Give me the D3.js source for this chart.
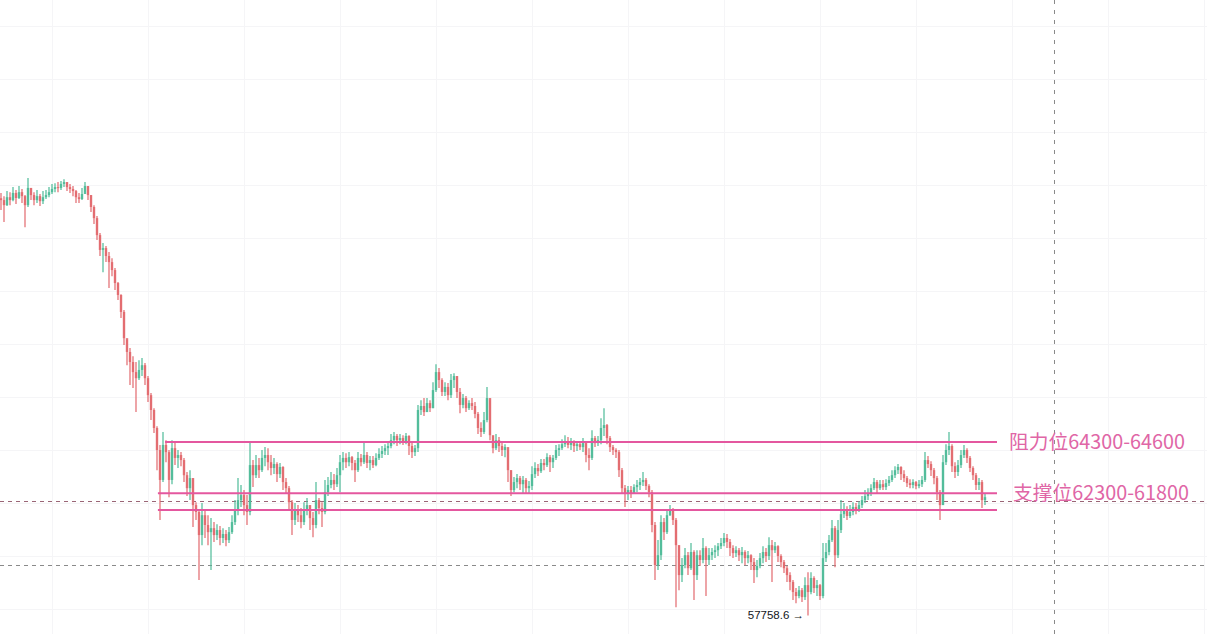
<!DOCTYPE html>
<html><head><meta charset="utf-8">
<script src="https://cdn.jsdelivr.net/npm/d3@7"></script>
<style>html,body{margin:0;padding:0;background:#fff;overflow:hidden}</style>
</head><body>
<svg id="c" width="1207" height="634"></svg>
<script>
// ---- data (BTC-style price candles, open = previous close) ----
const firstOpen = 73500;
const closes = [73430,73240,73540,73430,73700,73510,73730,73580,73240,73890,
73620,73430,73580,73390,73540,73620,73730,73850,73920,73890,
74040,74110,73920,73850,73770,73540,73470,73660,73960,73620,
73170,72750,72110,71550,71620,71320,71090,70790,70300,69850,
69210,68220,67700,67320,66940,66710,67020,67200,66710,66070,
65510,64830,64000,62870,64190,63920,62870,64070,63700,63810,
63620,63050,62560,62940,61920,61660,60790,61540,61170,60900,
61050,60790,60980,60680,60830,60600,60900,61280,61730,62110,
62300,61920,61660,63430,63050,63430,63240,63700,63810,63540,
63320,63470,63090,63360,62790,62560,62030,61360,61730,61540,
61280,61730,61920,61430,61170,62110,61810,61660,62410,62680,
62870,62710,63050,63540,63700,63540,63730,63510,63240,63700,
63540,63810,63510,63620,63430,63700,63850,63960,64070,64150,
64370,64530,64370,64450,64340,64530,64150,63920,64070,65510,
65660,65430,65770,65580,66260,66940,66640,66190,66380,66070,
66640,66790,66190,65700,65960,65580,65770,65660,65360,64830,
64680,65130,65960,64560,64070,64370,64150,64000,64110,63240,
62490,62790,62940,62710,62870,62560,62640,63090,63320,63200,
63510,63430,63730,63540,63700,64000,64070,64220,64340,64190,
64300,64150,64220,64110,64260,63810,63700,64450,64260,64370,
64830,64940,64450,64110,64000,63920,63240,62560,62340,62490,
62370,62600,62680,62790,62870,62640,62410,61170,59660,60030,
61280,60900,61540,61730,61360,60410,59280,59660,60030,59540,
60150,59280,60030,59850,60300,59850,60030,60150,60220,60370,
60490,60680,60530,60300,60110,60220,60030,60150,59920,60030,
59770,59470,59620,59920,60150,60000,60410,60220,60370,60000,
59770,59540,59280,59020,58640,58490,58710,58450,58900,58640,
59170,58790,58900,58490,59920,60150,60600,61050,60030,60980,
61580,61730,61510,61660,61850,61730,61920,62110,62260,62340,
62560,62790,62560,62710,62600,62750,62870,63050,63240,63360,
63090,62940,62750,62680,62790,62640,62710,62870,63620,63470,
63240,62940,62410,61920,63540,64000,64150,63390,63170,63430,
63810,64000,63700,63320,63050,62680,62790,62110,62220];
const highs = [73700,73580,73770,73730,73920,73810,73960,73850,73620,74260,
73890,73730,73810,73660,73770,73810,73920,74040,74070,74110,
74150,74220,74110,74040,73960,73810,73700,73890,74110,73960,
73620,73240,72830,72190,71810,71700,71470,71240,70870,70340,
69880,69280,68150,67850,67540,67320,67390,67470,67280,66790,
66150,65580,64900,64190,64680,64370,64000,64370,64260,64000,
63920,63700,63170,63240,62940,62030,61730,62000,61730,61540,
61430,61280,61200,61130,61050,60980,61090,61540,62110,62940,
62680,62490,62300,64260,63620,63810,63700,64000,64110,64070,
63810,63700,63540,63510,63390,62940,62640,62110,62000,61920,
61810,62030,62190,61920,61660,62790,62190,62030,62870,62980,
63170,63090,63320,63810,63920,63880,63920,63770,63620,63920,
63850,64300,63920,63770,63770,63880,64070,64150,64220,64300,
64600,64680,64600,64600,64560,64640,64560,64300,64190,65700,
65880,65960,65960,65880,66560,67240,67090,66710,66560,66530,
66870,66900,66790,66340,66110,66040,65880,65960,65810,65430,
65050,65430,66380,65880,64530,64600,64490,64340,64220,64000,
63240,62980,63090,63020,63020,62940,62830,63390,63540,63470,
63660,63660,63880,63810,63810,64190,64220,64410,64560,64490,
64450,64370,64340,64300,64450,64300,64070,64750,64530,64530,
65200,65580,64980,64530,64190,64070,64000,63320,62680,62640,
62640,62710,62870,62940,63170,62940,62710,62490,61280,60600,
61540,61430,61730,61920,61810,61430,60410,59920,60300,60150,
60490,60220,60220,60220,60680,60370,60300,60300,60410,60490,
60680,60870,60830,60640,60410,60370,60300,60340,60220,60190,
60070,59920,59850,60110,60370,60300,60710,60600,60530,60410,
60070,59850,59620,59390,59090,58790,58870,58790,59200,59390,
59390,59240,59090,58940,60490,60490,60790,61360,61130,61360,
62110,62000,61880,61920,62030,62000,62070,62260,62490,62560,
62710,62940,62870,62870,62870,62900,63020,63240,63390,63470,
63390,63240,63020,62900,62900,62830,62870,63020,63920,63770,
63580,63320,63020,62490,63810,64220,64680,64220,63540,63620,
64000,64190,64070,63770,63390,63130,62940,62870,62370];
const lows = [73060,72600,73210,73240,73390,73280,73470,73320,72410,73170,
73430,73240,73320,73210,73280,73470,73540,73660,73730,73730,
73810,73920,73770,73700,73580,73320,73320,73430,73730,73430,
72980,72530,71920,71320,70710,71090,70110,70560,70040,69660,
68980,67960,67200,66450,66340,65430,66640,66790,66450,65810,
65130,64640,63240,61360,62790,63540,62220,62710,63430,63320,
63390,62790,62260,62110,61090,61360,59090,60410,60680,60410,
59470,60530,60600,60410,60490,60370,60490,60830,61170,61540,
61850,61540,61170,61540,62600,62940,62940,63170,63390,63240,
63050,63090,62790,62940,62490,62370,61730,60790,61170,61280,
61050,61170,61540,60980,60710,61050,61580,61090,61580,62260,
62560,62490,62600,62410,63240,63320,63390,63240,62790,63170,
63390,63470,63320,63240,63320,63390,63620,63700,63810,63810,
64070,64220,64150,64220,64190,64220,63810,63700,63770,63920,
65320,65280,65430,65430,65580,66190,66340,66040,66040,65880,
65960,66340,65960,65390,65580,65430,65510,65510,65200,64600,
64490,64600,65050,64370,63880,64000,63920,63770,63730,62790,
62260,62410,62560,62490,62370,62340,62370,62490,62940,63020,
63130,63240,63360,63170,63320,63620,63770,64000,64110,64070,
64000,63920,63960,64000,63920,63540,63240,63620,64110,64150,
64220,64530,64220,63920,63810,63700,62980,62340,61850,62110,
62190,62340,62410,62490,62640,62490,62220,60900,59090,59470,
59850,60600,60830,61510,61170,58070,58710,59020,59540,59280,
59470,58340,59090,59620,59730,58490,59660,59850,59920,60000,
60260,60370,60300,60000,59920,59960,59810,59730,59660,59730,
59470,58980,59200,59540,59730,59770,59850,59020,60110,59770,
59580,59360,59020,58710,58340,58220,58410,58260,58340,57758.6,
58560,58600,58490,58340,58410,59770,60030,60530,59580,59920,
60870,61430,61360,61430,61540,61580,61660,61810,62000,62110,
62260,62490,62370,62490,62490,62490,62640,62790,62940,63090,
62870,62790,62600,62560,62560,62520,62560,62600,62790,63320,
63020,62710,62110,61360,61920,63430,63810,63170,62940,63020,
63320,63700,63510,63170,62870,62490,62490,61810,61920];

// key levels and annotations
const levelPrices = [64300, 62370, 61740];
const levelStartIdx = [54.7, 52.3, 52.3];
const levelEndIdx = 332;
const levelLabels = ["阻力位64300-64600", "支撑位62300-61800"];
const labelPrices = [64300, 62370];
const dashedPrices = [62075, 59660];
const crosshairIdx = 351;
const priceGrid = [58000,60000,62000,64000,66000,68000,70000,72000,74000,76000,78000,80000];
const timeGrid = [17,49,81,113,145,177,209,241,273,305,337,369,401];

// ---- drawing ----
const W = 1207, H = 634;
const svg = d3.select("#c");
const N = closes.length;
const opens = closes.map((c, i) => i === 0 ? firstOpen : closes[i - 1]);

const x = d3.scaleLinear().domain([0, N - 1]).range([1, 985]);
const y = d3.scaleLinear().domain([58000, 80000]).range([609, 26]);

// grid via axes
const gY = svg.append("g")
  .call(d3.axisRight(y).tickValues(priceGrid).tickSize(W).tickFormat(""));
gY.select(".domain").remove();
gY.selectAll(".tick line").attr("stroke", "#f5f5f7").attr("stroke-width", 1);

const gX = svg.append("g")
  .call(d3.axisBottom(x).tickValues(timeGrid).tickSize(H).tickFormat(""));
gX.select(".domain").remove();
gX.selectAll(".tick line").attr("stroke", "#f5f5f7").attr("stroke-width", 1);

// dashed price lines
const dashColors = ["#9a6676", "#8a8a8a"];
svg.selectAll("line.dash").data(dashedPrices).join("line")
  .attr("class", "dash")
  .attr("x1", 0).attr("x2", W)
  .attr("y1", d => Math.round(y(d)) + 0.5).attr("y2", d => Math.round(y(d)) + 0.5)
  .attr("stroke", (d, i) => dashColors[i]).attr("stroke-width", 1)
  .attr("stroke-dasharray", "4,4");

// vertical crosshair
svg.append("line")
  .attr("x1", Math.round(x(crosshairIdx)) + 0.5).attr("x2", Math.round(x(crosshairIdx)) + 0.5)
  .attr("y1", 0).attr("y2", H)
  .attr("stroke", "#8a8a8a").attr("stroke-width", 1).attr("stroke-dasharray", "4,6");

// candles
const upC = "#4dbb98", dnC = "#e2686d";
const idx = d3.range(N);
const cg = svg.append("g");
cg.selectAll("line.w").data(idx).join("line")
  .attr("class", "w")
  .attr("x1", i => x(i)).attr("x2", i => x(i))
  .attr("y1", i => y(highs[i])).attr("y2", i => y(lows[i]))
  .attr("stroke", i => closes[i] >= opens[i] ? upC : dnC)
  .attr("stroke-width", 1.2);
cg.selectAll("rect.b").data(idx).join("rect")
  .attr("class", "b")
  .attr("x", i => x(i) - 1.2).attr("width", 2.4)
  .attr("y", i => y(Math.max(opens[i], closes[i])))
  .attr("height", i => Math.max(1, Math.abs(y(opens[i]) - y(closes[i]))))
  .attr("fill", i => closes[i] >= opens[i] ? upC : dnC)
  .attr("fill-opacity", 0.92);

// level lines
const pink = "#e4579f";
svg.selectAll("line.lvl").data(levelPrices).join("line")
  .attr("class", "lvl")
  .attr("x1", (d, i) => x(levelStartIdx[i])).attr("x2", x(levelEndIdx))
  .attr("y1", d => y(d)).attr("y2", d => y(d))
  .attr("stroke", pink).attr("stroke-width", 2);

svg.selectAll("text.lbl").data(levelLabels).join("text")
  .attr("class", "lbl")
  .attr("x", (d, i) => i === 0 ? 1009 : 1013)
  .attr("y", (d, i) => y(labelPrices[i]))
  .attr("dy", "0.35em")
  .attr("fill", "#e066a6")
  .attr("font-family", "'Noto Sans CJK SC', 'Noto Sans', sans-serif")
  .attr("font-size", 19.8)
  .text(d => d);

// lowest low marker
const li = d3.minIndex(lows);
svg.append("text")
  .attr("x", x(li) - 4).attr("y", y(lows[li]))
  .attr("dy", "0.35em").attr("text-anchor", "end")
  .attr("fill", "#131722")
  .attr("font-family", "'Liberation Sans', Arial, sans-serif")
  .attr("font-size", 11.5)
  .text(d3.format(".1f")(lows[li]) + " →");
</script>
</body></html>
